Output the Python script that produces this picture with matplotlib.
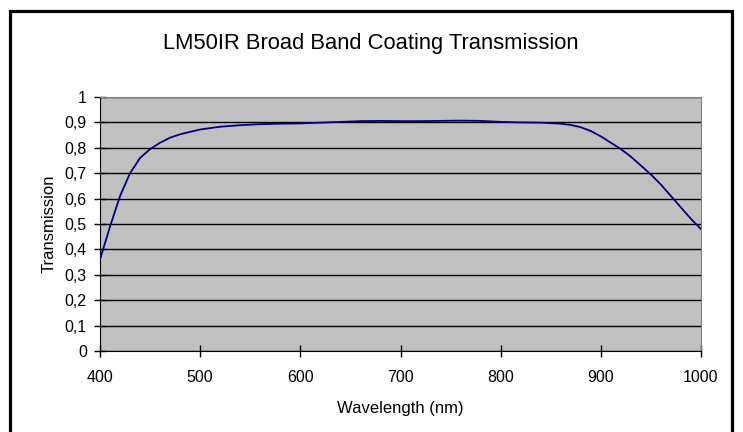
import matplotlib
matplotlib.use("Agg")
import matplotlib.pyplot as plt
from matplotlib.patches import Rectangle

# transmission curve
wavelength = [400, 410, 420, 430, 440, 450, 460, 470, 480, 490, 500, 520, 540, 560,
              580, 600, 620, 640, 660, 680, 700, 720, 740, 760, 780, 800, 820, 840,
              860, 870, 880, 890, 900, 910, 920, 930, 940, 950, 960, 970, 980, 990, 1000]
transmission = [0.36, 0.49, 0.61, 0.70, 0.76, 0.795, 0.82, 0.84, 0.853, 0.863, 0.872,
                0.883, 0.889, 0.893, 0.895, 0.896, 0.899, 0.902, 0.905, 0.906, 0.905,
                0.905, 0.906, 0.907, 0.906, 0.902, 0.900, 0.899, 0.895, 0.89, 0.881,
                0.866, 0.845, 0.82, 0.795, 0.765, 0.73, 0.695, 0.655, 0.61, 0.565,
                0.52, 0.48]
x_ticks = [400, 500, 600, 700, 800, 900, 1000]
y_ticks = [0, 0.1, 0.2, 0.3, 0.4, 0.5, 0.6, 0.7, 0.8, 0.9, 1]
y_labels = ["0", "0,1", "0,2", "0,3", "0,4", "0,5", "0,6", "0,7", "0,8", "0,9", "1"]

plt.rcParams["font.family"] = ["Liberation Sans", "DejaVu Sans"]

fig = plt.figure(figsize=(7.43, 4.32), dpi=100)
ax = fig.add_axes([100 / 743, 81 / 432, 601 / 743, 254 / 432])

ax.set_facecolor("#c0c0c0")
ax.plot(wavelength, transmission, color="#000080", lw=1.3, zorder=3)

ax.set_xlim(400, 1000)
ax.set_ylim(0, 1)
ax.set_xticks(x_ticks)
ax.set_yticks(y_ticks)
ax.set_yticklabels(y_labels)
ax.grid(axis="y", color="black", lw=1)
ax.set_axisbelow(True)
ax.tick_params(direction="inout", length=9, width=1, labelsize=11.5)
ax.tick_params(axis="x", pad=9)
ax.tick_params(axis="y", pad=5)

for side in ["top", "right"]:
    ax.spines[side].set_color("#808080")
for side in ["left", "bottom"]:
    ax.spines[side].set_color("black")

ax.set_xlabel("Wavelength (nm)", fontsize=12, labelpad=12)
ax.set_ylabel("Transmission", fontsize=12, labelpad=6)
fig.text(371 / 743, 1 - 43 / 432, "LM50IR Broad Band Coating Transmission",
         fontsize=15.8, ha="center", va="center")

# outer chart border (bottom edge runs off the picture)
fig.patches.append(Rectangle((10 / 743, -0.05), 722 / 743, 1.05 - 11 / 432,
                             transform=fig.transFigure, fill=False,
                             edgecolor="black", lw=2.3))

fig.savefig("out.png", dpi=100)
